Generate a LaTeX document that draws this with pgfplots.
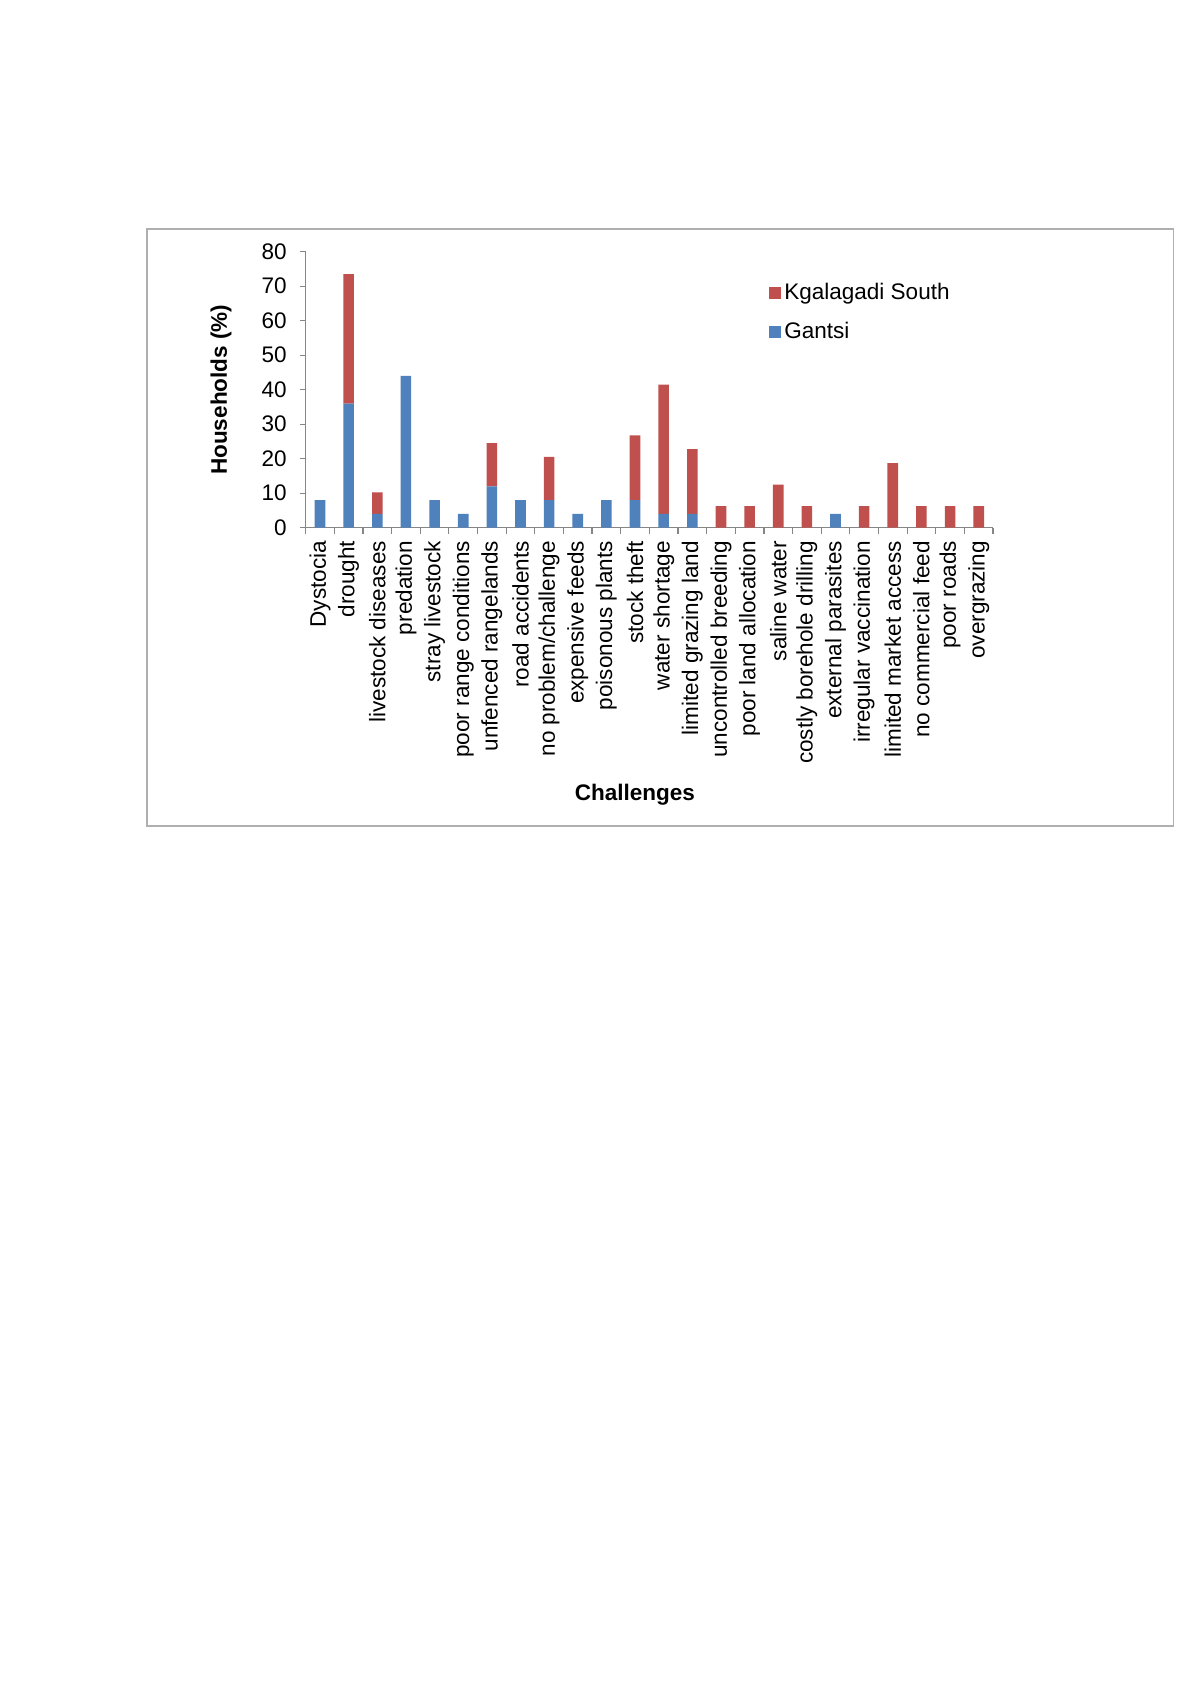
\documentclass[border=0pt]{standalone}
\usepackage{pgfplots}
\pgfplotsset{compat=1.18}
\usepackage{fontspec}
\setmainfont{Liberation Sans}
\definecolor{kred}{RGB}{192,80,77}
\definecolor{gblue}{RGB}{79,129,189}
\definecolor{framegray}{RGB}{175,175,175}
\definecolor{axgray}{RGB}{134,134,134}
\begin{document}
\begin{tikzpicture}[x=1bp,y=1bp]
\fill[white] (0,0) rectangle (600,-849);
\draw[draw=framegray, line width=0.8bp] (73.6,-114.6) rectangle (586.7,-413);
\begin{axis}[
  at={(152.85bp,-263.85bp)}, anchor=south west,
  scale only axis, width=343.65bp, height=138bp,
  xmin=-0.5, xmax=23.5, ymin=0, ymax=80,
  ytick={0,10,...,80},
  xtick={-0.5,0.5,...,23.5},
  x tick label as interval,
  xticklabels={Dystocia,drought,livestock diseases,predation,stray livestock,poor range conditions,unfenced rangelands,road accidents,no problem/challenge,expensive feeds,poisonous plants,stock theft,water shortage,limited grazing land,uncontrolled breeding,poor land allocation,saline water,costly borehole drilling,external parasites,irregular vaccination,limited market access,no commercial feed,poor roads,overgrazing},
  axis x line*=bottom, axis y line*=left,
  axis line style={draw=axgray, line width=0.6bp},
  tick align=outside,
  tick style={draw=axgray, line width=0.6bp},
  major tick length=3bp,
  ybar stacked, bar width=5.3bp,
  font=\fontsize{11.3}{13}\selectfont,
  tick label style={font=\fontsize{11.3}{13}\selectfont},
  /pgf/number format/assume math mode=true,
  xticklabel style={rotate=90, anchor=east, inner sep=3.5bp},
  yticklabel style={inner sep=2bp, xshift=-4.3bp},
  xlabel={\textbf{Challenges}},
  ylabel={\textbf{Households (\%)}},
  xlabel style={at={(axis description cs:0.479,-0.968)}, anchor=center},
  ylabel style={at={(axis description cs:-0.1232,0.5)}, anchor=center},
  reverse legend,
  legend cell align=left,
  legend image code/.code={\fill[#1] (0bp,-3bp) rectangle (6bp,3bp);},
  legend style={at={(axis description cs:0.674,0.898)}, anchor=north west, draw=none, fill=none, inner sep=0pt, row sep=7bp, font=\fontsize{11.3}{13}\selectfont, nodes={inner sep=1.5bp}},
  clip=false,
]
\addplot[fill=gblue, draw=none] coordinates {
(0,8) (1,36) (2,4) (3,44) (4,8) (5,4) (6,12) (7,8) (8,8) (9,4) (10,8) (11,8) (12,4) (13,4) (14,0) (15,0) (16,0) (17,0) (18,4) (19,0) (20,0) (21,0) (22,0) (23,0)};
\addlegendentry{Gantsi}
\addplot[fill=kred, draw=none] coordinates {
(0,0) (1,37.5) (2,6.25) (3,0) (4,0) (5,0) (6,12.5) (7,0) (8,12.5) (9,0) (10,0) (11,18.75) (12,37.5) (13,18.75) (14,6.25) (15,6.25) (16,12.5) (17,6.25) (18,0) (19,6.25) (20,18.75) (21,6.25) (22,6.25) (23,6.25)};
\addlegendentry{Kgalagadi South}
\end{axis}
\end{tikzpicture}
\end{document}
